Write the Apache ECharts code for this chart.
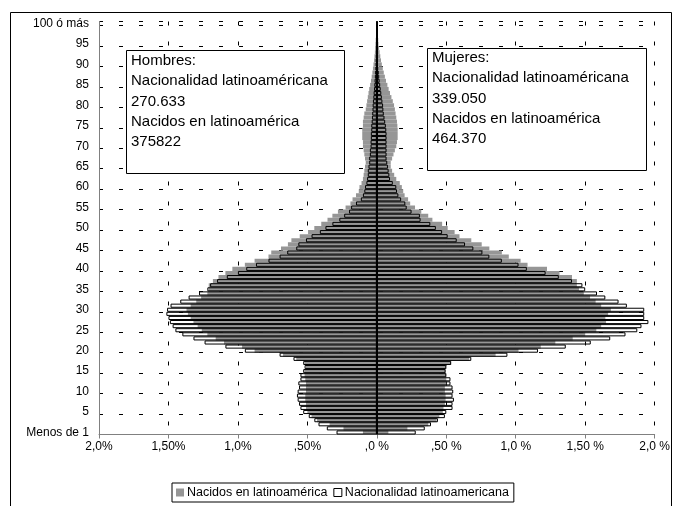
<!DOCTYPE html>
<html>
<head>
<meta charset="utf-8">
<script src="https://cdn.jsdelivr.net/npm/echarts@6/dist/echarts.min.js"></script>
<style>
  html, body { margin: 0; padding: 0; background: #fff; }
  #chart { width: 673px; height: 506px; }
</style>
</head>
<body>
<div id="chart"></div>
<script>
// categorías de edad (de abajo hacia arriba)
const edades = ['Menos de 1','1','2','3','4','5','6','7','8','9',
  '10','11','12','13','14','15','16','17','18','19',
  '20','21','22','23','24','25','26','27','28','29',
  '30','31','32','33','34','35','36','37','38','39',
  '40','41','42','43','44','45','46','47','48','49',
  '50','51','52','53','54','55','56','57','58','59',
  '60','61','62','63','64','65','66','67','68','69',
  '70','71','72','73','74','75','76','77','78','79',
  '80','81','82','83','84','85','86','87','88','89',
  '90','91','92','93','94','95','96','97','98','99','100 ó más']

// % sobre el total, hombres (se dibujan a la izquierda)
const hombresNacidos = [0.10,0.24,0.34,0.43,0.47,0.50,0.51,0.51,0.515,0.515,
  0.51,0.51,0.51,0.515,0.52,0.52,0.51,0.52,0.58,0.675,
  0.88,0.97,1.10,1.16,1.22,1.26,1.29,1.32,1.34,1.36,
  1.37,1.34,1.30,1.265,1.22,1.21,1.21,1.18,1.14,1.09,
  1.04,0.95,0.88,0.78,0.76,0.69,0.64,0.615,0.555,0.495,
  0.45,0.40,0.355,0.32,0.28,0.225,0.19,0.175,0.15,0.13,
  0.125,0.11,0.10,0.095,0.09,0.085,0.08,0.085,0.09,0.095,
  0.10,0.10,0.105,0.105,0.105,0.10,0.10,0.095,0.09,0.08,
  0.075,0.07,0.065,0.06,0.055,0.048,0.042,0.037,0.032,0.028,
  0.024,0.02,0.017,0.014,0.012,0.01,0.008,0.006,0.005,0.004,0.003]

const hombresNacionalidad = [0.29,0.36,0.42,0.45,0.49,0.53,0.55,0.56,0.57,0.575,
  0.57,0.56,0.565,0.55,0.55,0.53,0.52,0.53,0.60,0.70,
  0.95,1.09,1.24,1.32,1.40,1.45,1.47,1.49,1.50,1.515,
  1.51,1.485,1.415,1.355,1.28,1.22,1.20,1.15,1.08,1.00,
  0.94,0.87,0.78,0.70,0.645,0.58,0.565,0.51,0.47,0.41,
  0.37,0.32,0.27,0.235,0.20,0.185,0.15,0.115,0.10,0.09,
  0.085,0.075,0.07,0.065,0.065,0.06,0.055,0.055,0.05,0.05,
  0.045,0.045,0.043,0.043,0.04,0.04,0.037,0.035,0.033,0.031,
  0.03,0.028,0.025,0.023,0.02,0.018,0.016,0.014,0.012,0.01,
  0.008,0.007,0.006,0.005,0.004,0.003,0.003,0.002,0.002,0.001,0.001]

// % sobre el total, mujeres (a la derecha)
const mujeresNacidos = [0.083,0.22,0.37,0.43,0.45,0.475,0.48,0.49,0.495,0.495,
  0.49,0.49,0.50,0.50,0.50,0.495,0.50,0.535,0.665,0.855,
  1.02,1.18,1.285,1.41,1.50,1.58,1.615,1.65,1.645,1.665,
  1.685,1.615,1.575,1.535,1.49,1.455,1.44,1.44,1.405,1.315,
  1.225,1.085,1.035,0.95,0.90,0.81,0.755,0.68,0.595,0.56,
  0.51,0.47,0.40,0.37,0.32,0.275,0.24,0.225,0.20,0.19,
  0.18,0.165,0.14,0.125,0.11,0.10,0.10,0.11,0.12,0.13,
  0.14,0.145,0.15,0.15,0.15,0.148,0.145,0.14,0.135,0.13,
  0.124,0.115,0.105,0.095,0.085,0.076,0.066,0.058,0.05,0.043,
  0.036,0.03,0.025,0.02,0.016,0.012,0.01,0.008,0.006,0.004,0.003]

const mujeresNacionalidad = [0.28,0.345,0.39,0.44,0.49,0.50,0.545,0.545,0.555,0.545,
  0.55,0.545,0.53,0.53,0.50,0.495,0.50,0.535,0.68,0.94,
  1.16,1.36,1.54,1.68,1.79,1.875,1.905,1.955,1.925,1.925,
  1.925,1.80,1.74,1.645,1.585,1.50,1.48,1.405,1.31,1.215,
  1.08,1.02,0.90,0.81,0.76,0.695,0.635,0.575,0.51,0.47,
  0.425,0.385,0.315,0.31,0.25,0.215,0.205,0.175,0.155,0.145,
  0.14,0.115,0.095,0.09,0.085,0.08,0.075,0.07,0.07,0.07,
  0.07,0.07,0.07,0.07,0.068,0.065,0.06,0.055,0.05,0.047,
  0.045,0.04,0.036,0.032,0.028,0.024,0.02,0.017,0.014,0.01,
  0.008,0.007,0.006,0.005,0.004,0.003,0.003,0.002,0.002,0.001,0.001]

// etiquetas del eje horizontal, de -2 a 2 cada 0,5
const etiquetasX = ['2,0%','1,50%','1,0%',',50%',',0 %',',50 %','1,0 %','1,50 %','2,0 %']

const textoHombres = ['Hombres:', 'Nacionalidad latinoaméricana', '270.633', 'Nacidos en latinoamérica', '375822']
const textoMujeres = ['Mujeres:', 'Nacionalidad latinoaméricana', '339.050', 'Nacidos en latinoamérica', '464.370']

const FONT = '"Liberation Sans", Arial, sans-serif'
const GRIS = '#969696'
const dash = [4, 16]

const chart = echarts.init(document.getElementById('chart'))

const cajaTexto = (x, y, w, h, lineas, tx, ty) => ({
  type: 'group',
  children: [
    {
      type: 'rect',
      shape: { x: x, y: y, width: w, height: h },
      style: { fill: '#fff', stroke: '#000', lineWidth: 1 },
      z: 10
    },
    {
      type: 'text',
      x: tx,
      y: ty,
      style: {
        text: lineas.join('\n'),
        font: '15px ' + FONT,
        lineHeight: 20.2,
        fill: '#000'
      },
      z: 11
    }
  ]
})

const option = {
  animation: false,
  backgroundColor: '#fff',
  grid: {
    left: 99,
    right: 14,
    top: 21.5,
    bottom: 71.5
  },
  legend: {
    left: 172,
    top: 483,
    padding: [3, 5, 3, 4],
    itemGap: 6,
    itemWidth: 8,
    itemHeight: 8,
    borderColor: '#000',
    borderWidth: 1,
    backgroundColor: '#fff',
    icon: 'rect',
    textStyle: { fontFamily: FONT, fontSize: 12.5, color: '#000', padding: [0, 0, 0, -2] },
    data: [
      { name: 'Nacidos en latinoamérica', itemStyle: { color: GRIS } },
      { name: 'Nacionalidad latinoamericana', itemStyle: { color: '#fff', borderColor: '#000', borderWidth: 1 } }
    ]
  },
  xAxis: {
    type: 'value',
    min: -2,
    max: 2,
    interval: 0.5,
    axisLine: { show: true, lineStyle: { color: '#808080', width: 1 } },
    axisTick: { show: true, length: 4, lineStyle: { color: '#808080' } },
    axisLabel: {
      margin: 6,
      color: '#000',
      fontFamily: FONT,
      fontSize: 12,
      formatter: v => etiquetasX[Math.round((v + 2) / 0.5)]
    },
    splitLine: { show: true, lineStyle: { color: '#000', width: 1, type: dash } }
  },
  yAxis: {
    type: 'category',
    data: edades,
    boundaryGap: true,
    axisLine: { show: true, onZero: false, lineStyle: { color: '#808080', width: 1 } },
    axisTick: { show: false },
    axisLabel: {
      interval: 4,
      margin: 10,
      color: '#000',
      fontFamily: FONT,
      fontSize: 12
    },
    splitLine: { show: true, interval: 4, lineStyle: { color: '#000', width: 1, type: dash } }
  },
  series: [
    {
      name: 'Nacidos en latinoamérica',
      type: 'bar',
      data: hombresNacidos.map(v => -v),
      barCategoryGap: 0,
      barGap: '-100%',
      itemStyle: { color: GRIS }
    },
    {
      name: 'Nacidos en latinoamérica',
      type: 'bar',
      data: mujeresNacidos,
      barCategoryGap: 0,
      barGap: '-100%',
      itemStyle: { color: GRIS }
    },
    {
      name: 'Nacionalidad latinoamericana',
      type: 'bar',
      data: hombresNacionalidad.map(v => -v),
      barCategoryGap: 0,
      barGap: '-100%',
      itemStyle: { color: 'rgba(255,255,255,0)', borderColor: '#000', borderWidth: 1 }
    },
    {
      name: 'Nacionalidad latinoamericana',
      type: 'bar',
      data: mujeresNacionalidad,
      barCategoryGap: 0,
      barGap: '-100%',
      itemStyle: { color: 'rgba(255,255,255,0)', borderColor: '#000', borderWidth: 1 },
      markLine: {
        silent: true,
        symbol: ['none', 'none'],
        label: { show: false },
        lineStyle: { color: '#000', width: 2, type: 'solid' },
        data: [{ xAxis: 0 }]
      }
    }
  ],
  graphic: [
    {
      type: 'rect',
      shape: { x: 10.5, y: 12.5, width: 661, height: 520 },
      style: { fill: 'none', stroke: '#000', lineWidth: 1 },
      silent: true
    },
    cajaTexto(126.5, 50.5, 218, 123, textoHombres, 131, 51),
    cajaTexto(427.5, 48.5, 219, 122, textoMujeres, 432, 48)
  ]
}

chart.setOption(option)
</script>
</body>
</html>
